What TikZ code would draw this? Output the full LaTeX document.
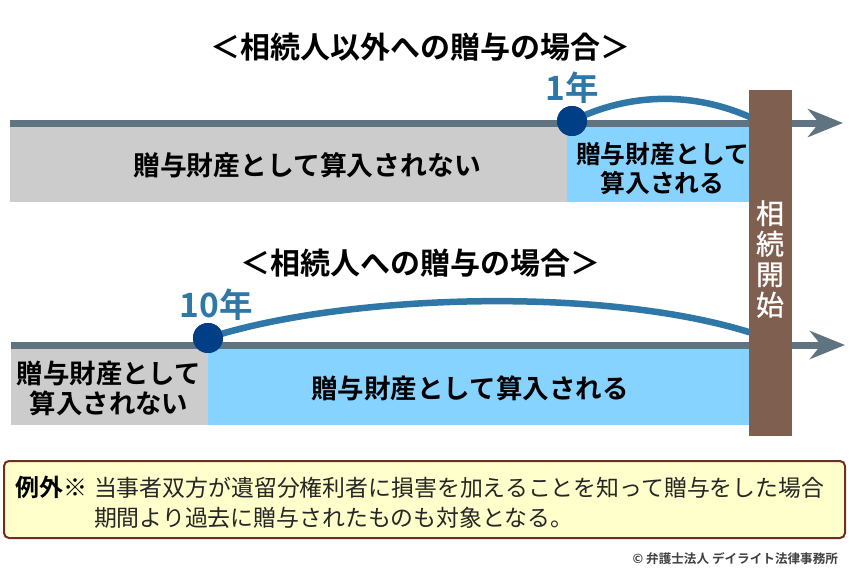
\documentclass[tikz,border=0pt]{standalone}
\usepackage{fontspec}
\setmainfont{Noto Sans CJK JP}[BoldFont={Noto Sans CJK JP Bold}]
\newfontfamily\colfont{Noto Sans CJK JP}[FakeBold=0.8]
\usetikzlibrary{arrows.meta}
\definecolor{linegray}{HTML}{5F7480}
\definecolor{barblue}{HTML}{2F77A6}
\definecolor{dotblue}{HTML}{003F85}
\definecolor{cellblue}{HTML}{87D3FF}
\definecolor{cellgray}{HTML}{CCCCCC}
\definecolor{colbrown}{HTML}{7F5F4F}
\definecolor{notefill}{HTML}{FFFFCC}
\definecolor{notedraw}{HTML}{6B3020}
\newcommand{\fs}[2]{\fontsize{#1}{#2}\selectfont}
\tikzset{
  x=1pt,y=-1pt,
  cell/.style={draw=none,inner sep=0,outer sep=0,anchor=north west},
  lbl/.style={inner sep=0,outer sep=0,text=black,align=center},
  timeline/.style={draw=linegray,line width=7pt,-{Stealth[length=35pt,width=28pt,inset=11pt]}},
  yearline/.style={draw=barblue,line width=6.5pt},
  dot/.style={circle,fill=dotblue,minimum size=30pt,inner sep=0,outer sep=0},
  yearlbl/.style={inner sep=0,outer sep=0,font=\bfseries\fs{33.5}{36},text=barblue},
  titlelbl/.style={inner sep=0,outer sep=0,font=\bfseries\fs{30}{32},text=black},
}
\begin{document}
\begin{tikzpicture}
\useasboundingbox (0,0) rectangle (850,571);
% top block
\node[cell,fill=cellgray,minimum width=557pt,minimum height=77pt] (g1) at (10,125) {};
\node[cell,fill=cellblue,minimum width=183pt,minimum height=77pt] (b1) at (567,125) {};
\coordinate (s1) at (10,123);
\coordinate (e1) at (843,123);
\draw[timeline] (s1) -- (e1);
% bottom block
\node[cell,fill=cellgray,minimum width=197pt,minimum height=78pt] (g2) at (11,347) {};
\node[cell,fill=cellblue,minimum width=542pt,minimum height=78pt] (b2) at (208,347) {};
\coordinate (s2) at (11,345);
\coordinate (e2) at (845,345);
\draw[timeline] (s2) -- (e2);
% arcs
\node[dot] (d1) at (572,121) {};
\node[dot] (d2) at (208,338) {};
\coordinate (a1) at (752,118);
\coordinate (a2) at (752,333);
\draw[yearline] (d1.center) .. controls (630,92) and (695,92) .. (a1);
\draw[yearline] (d2.center) .. controls (340,295) and (600,285) .. (a2);
\node[dot] at (d1) {};
\node[dot] at (d2) {};
% column
\node[cell,fill=colbrown,minimum width=43pt,minimum height=346pt] (col) at (749,90) {};
\node[inner sep=0,outer sep=0,text=white,font=\colfont\fs{28}{30.5},align=center] (coltxt) at (770,259) {相\\続\\開\\始};
% titles
\node[titlelbl] (t1) at (420,47) {＜相続人以外への贈与の場合＞};
\node[titlelbl] (t2) at (420,263) {＜相続人への贈与の場合＞};
\node[yearlbl] (y1) at (572,88) {1年};
\node[yearlbl] (y2) at (216,305) {10年};
% labels
\node[lbl,font=\bfseries\fs{26.8}{30}] (l1) at (307,165) {贈与財産として算入されない};
\node[lbl,font=\bfseries\fs{24.8}{28.5}] (l2) at (662.5,168.5) {贈与財産として\\算入される};
\node[lbl,font=\bfseries\fs{26.5}{30}] (l3) at (470,388) {贈与財産として算入される};
\node[lbl,font=\bfseries\fs{26.4}{30}] (l4) at (109,388) {贈与財産として\\算入されない};
% note
\node[cell,fill=notefill,draw=notedraw,line width=2pt,rounded corners=5pt,minimum width=841pt,minimum height=77pt] (note) at (4,461) {};
\node[lbl,font=\bfseries\fs{24}{26},anchor=west] (ex) at (15.5,487) {例外※};
\node[inner sep=0,outer sep=0,anchor=west,font=\fs{22.88}{26},text=black!85] (n1) at (94,487.5) {当事者双方が遺留分権利者に損害を加えることを知って贈与をした場合};
\node[inner sep=0,outer sep=0,anchor=west,font=\fs{22.88}{26},text=black!85] (n2) at (94,517.5) {期間より過去に贈与されたものも対象となる。};
% copyright
\node[inner sep=0,outer sep=0,anchor=east,font=\bfseries\fs{12.6}{14},text=black!75] (c) at (838,559) {© 弁護士法人 デイライト法律事務所};
\end{tikzpicture}
\end{document}
